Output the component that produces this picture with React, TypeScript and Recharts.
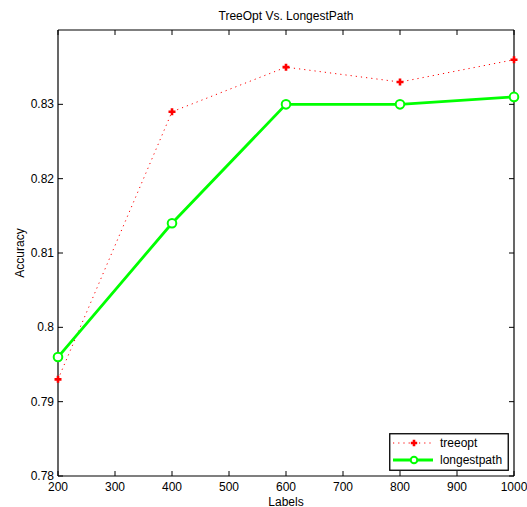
import React from 'react';
import { LineChart, Line, XAxis, YAxis } from 'recharts';

const labels = [200, 400, 600, 800, 1000];
const treeopt = [0.793, 0.829, 0.835, 0.833, 0.836];
const longestpath = [0.796, 0.814, 0.83, 0.83, 0.831];
const xTicks = [200, 300, 400, 500, 600, 700, 800, 900, 1000];
const yTicks = [0.78, 0.79, 0.8, 0.81, 0.82, 0.83];
const yDomain = [0.78, 0.84];
const seriesNames = ['treeopt', 'longestpath'];
const title = 'TreeOpt Vs. LongestPath';
const xLabel = 'Labels';
const yLabel = 'Accuracy';

const data = labels.map((l, i) => ({ label: l, treeopt: treeopt[i], longestpath: longestpath[i] }));

const FONT = '"Liberation Sans", Arial, sans-serif';
const RED = '#ff0000';
const GREEN = '#00ff00';

const PlusDot = (props: any) => {
  const { cx, cy, plusSize = 3.5 } = props;
  if (cx == null || cy == null) return null;
  const s = plusSize;
  return (
    <path
      d={`M${cx - s},${cy} H${cx + s} M${cx},${cy - s} V${cy + s}`}
      stroke={RED}
      strokeWidth={2.6}
      fill="none"
    />
  );
};

const CircleDot = (props: any) => {
  const { cx, cy, circleR = 4.3 } = props;
  if (cx == null || cy == null) return null;
  return <circle cx={cx} cy={cy} r={circleR} stroke={GREEN} strokeWidth={2} fill="#fff" />;
};

const BottomTick = (props: any) => {
  const { x, y, payload } = props;
  return (
    <g>
      <line x1={x} x2={x} y1={y} y2={y - 5} stroke="#000" strokeWidth={1} />
      <text x={x} y={y + 15} textAnchor="middle" fontSize={12} fontFamily={FONT} fill="#000">
        {payload.value}
      </text>
    </g>
  );
};

const TopTick = (props: any) => {
  const { x, y } = props;
  return <line x1={x} x2={x} y1={y} y2={y + 5} stroke="#000" strokeWidth={1} />;
};

const LeftTick = (props: any) => {
  const { x, y, payload } = props;
  return (
    <g>
      <line x1={x} x2={x + 5} y1={y} y2={y} stroke="#000" strokeWidth={1} />
      <text x={x - 4} y={y + 4} textAnchor="end" fontSize={12} fontFamily={FONT} fill="#000">
        {String(Number(payload.value.toFixed(2)))}
      </text>
    </g>
  );
};

const RightTick = (props: any) => {
  const { x, y } = props;
  return <line x1={x} x2={x - 5} y1={y} y2={y} stroke="#000" strokeWidth={1} />;
};

export default function App() {
  return (
    <div style={{ position: 'absolute', left: 0, top: 0, width: 527, height: 507, background: '#fff' }}>
      <LineChart
        width={527}
        height={507}
        data={data}
        margin={{ top: 29, right: 12, left: 0, bottom: 0 }}
      >
        <XAxis
          dataKey="label"
          type="number"
          domain={[200, 1000]}
          ticks={xTicks}
          interval={0}
          height={31}
          tickSize={0}
          tickMargin={0}
          tickLine={false}
          axisLine={{ stroke: '#000', strokeWidth: 1.2 }}
          tick={BottomTick}
          label={{
            content: () => (
              <text x={286} y={505.5} textAnchor="middle" fontSize={12} fontFamily={FONT} fill="#000">
                {xLabel}
              </text>
            ),
          }}
        />
        <XAxis
          xAxisId="top"
          orientation="top"
          dataKey="label"
          type="number"
          domain={[200, 1000]}
          ticks={xTicks}
          interval={0}
          height={1}
          tickSize={0}
          tickMargin={0}
          tickLine={false}
          axisLine={{ stroke: '#000', strokeWidth: 1.2 }}
          tick={TopTick}
          label={{
            content: () => (
              <text x={286} y={20} textAnchor="middle" fontSize={12} fontFamily={FONT} fill="#000">
                {title}
              </text>
            ),
          }}
        />
        <YAxis
          type="number"
          domain={yDomain}
          ticks={yTicks}
          interval={0}
          width={58}
          tickSize={0}
          tickMargin={0}
          tickLine={false}
          axisLine={{ stroke: '#000', strokeWidth: 1.2 }}
          tick={LeftTick}
          allowDataOverflow
          label={{
            content: () => (
              <text
                transform="translate(24,253) rotate(-90)"
                textAnchor="middle"
                fontSize={12}
                fontFamily={FONT}
                fill="#000"
              >
                {yLabel}
              </text>
            ),
          }}
        />
        <YAxis
          yAxisId="right"
          orientation="right"
          type="number"
          domain={yDomain}
          ticks={yTicks}
          interval={0}
          width={1}
          tickSize={0}
          tickMargin={0}
          tickLine={false}
          axisLine={{ stroke: '#000', strokeWidth: 1.2 }}
          tick={RightTick}
          allowDataOverflow
        />
        <Line
          xAxisId="top"
          yAxisId="right"
          dataKey="longestpath"
          stroke="none"
          dot={false}
          activeDot={false}
          legendType="none"
          isAnimationActive={false}
        />
        <Line
          dataKey="treeopt"
          stroke={RED}
          strokeWidth={1}
          strokeDasharray="1.2 4"
          dot={<PlusDot />}
          activeDot={false}
          isAnimationActive={false}
        />
        <Line
          dataKey="longestpath"
          stroke={GREEN}
          strokeWidth={2.8}
          dot={<CircleDot />}
          activeDot={false}
          isAnimationActive={false}
        />
      </LineChart>
      <svg
        width={120}
        height={38}
        style={{ position: 'absolute', left: 388.5, top: 432.5 }}
      >
        <rect x={0.75} y={0.75} width={118.5} height={36.5} fill="#fff" stroke="#000" strokeWidth={1.3} />
        <line x1={4} x2={44} y1={10} y2={10} stroke={RED} strokeWidth={1} strokeDasharray="1.2 4" />
        <PlusDot cx={25} cy={10} plusSize={3.2} />
        <text x={51} y={14} fontSize={12} fontFamily={FONT} fill="#000">{seriesNames[0]}</text>
        <line x1={4} x2={44} y1={27} y2={27} stroke={GREEN} strokeWidth={2.8} />
        <CircleDot cx={25} cy={27} circleR={3.3} />
        <text x={51} y={31} fontSize={12} fontFamily={FONT} fill="#000">{seriesNames[1]}</text>
      </svg>
    </div>
  );
}
